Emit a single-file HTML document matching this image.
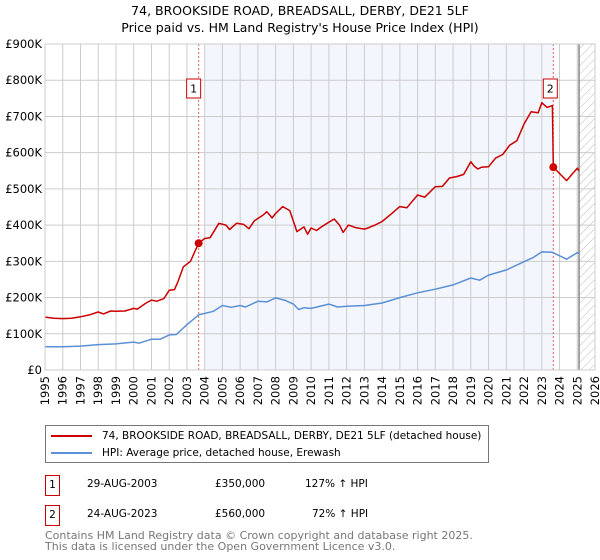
<!DOCTYPE html>
<html><head><meta charset="utf-8"><style>
body{margin:0;background:#fff;font-family:"DejaVu Sans","Liberation Sans",sans-serif;}
#wrap{position:relative;width:600px;height:560px;overflow:hidden}
</style></head><body>
<div id="wrap">
<svg id="chart" width="600" height="560" xmlns="http://www.w3.org/2000/svg" style="font-family:'DejaVu Sans','Liberation Sans',sans-serif">
<defs><pattern id="hatch" width="6" height="6" patternUnits="userSpaceOnUse" patternTransform="rotate(45)"><line x1="0" y1="0" x2="0" y2="6" stroke="#bbb" stroke-width="1"/></pattern></defs>
<text x="300" y="15" text-anchor="middle" font-size="12.5">74, BROOKSIDE ROAD, BREADSALL, DERBY, DE21 5LF</text>
<text x="300" y="32" text-anchor="middle" font-size="12.5">Price paid vs. HM Land Registry's House Price Index (HPI)</text>
<g id="bg"></g><g id="grid"></g><g id="series"></g><g id="axes"></g>
</svg>
<div style="position:absolute;left:45px;top:425px;width:442px;height:36px;border:1px solid #777;font-size:10.5px">
 <div style="position:absolute;left:5px;top:4px;white-space:nowrap"><span style="display:inline-block;width:41px;height:2px;background:#cc0000;vertical-align:middle;margin-right:10px"></span>74, BROOKSIDE ROAD, BREADSALL, DERBY, DE21 5LF (detached house)</div>
 <div style="position:absolute;left:5px;top:21px;white-space:nowrap"><span style="display:inline-block;width:41px;height:2px;background:#5b8fd6;vertical-align:middle;margin-right:10px"></span>HPI: Average price, detached house, Erewash</div>
</div>
<div style="position:absolute;top:475px;left:0;font-size:10.5px;width:600px">
 <div style="position:absolute;left:45px;top:0;width:13px;height:19px;border:1px solid #cc0000;text-align:center;line-height:19px">1</div>
 <div style="position:absolute;left:87px;top:3px">29-AUG-2003</div>
 <div style="position:absolute;left:215px;top:3px">£350,000</div>
 <div style="position:absolute;left:305px;top:3px">127% ↑ HPI</div>
</div>
<div style="position:absolute;top:505px;left:0;font-size:10.5px;width:600px">
 <div style="position:absolute;left:45px;top:0;width:13px;height:19px;border:1px solid #cc0000;text-align:center;line-height:19px">2</div>
 <div style="position:absolute;left:87px;top:3px">24-AUG-2023</div>
 <div style="position:absolute;left:215px;top:3px">£560,000</div>
 <div style="position:absolute;left:312px;top:3px">72% ↑ HPI</div>
</div>
<div style="position:absolute;left:45px;top:530px;font-size:11px;color:#777;line-height:11px">Contains HM Land Registry data © Crown copyright and database right 2025.<br>This data is licensed under the Open Government Licence v3.0.</div>
</div>
<script>
const redYears=[1995,1995.5,1996,1996.5,1997,1997.5,1998,1998.3,1998.7,1999,1999.5,2000,2000.2,2000.7,2001,2001.3,2001.7,2002,2002.3,2002.5,2002.8,2003.2,2003.66,2004,2004.3,2004.8,2005.2,2005.4,2005.8,2006.2,2006.5,2006.8,2007.3,2007.5,2007.8,2008,2008.4,2008.8,2009.2,2009.6,2009.8,2010,2010.3,2010.6,2011,2011.3,2011.6,2011.8,2012.1,2012.5,2013,2013.2,2013.6,2014,2014.5,2015,2015.4,2016,2016.4,2017,2017.4,2017.8,2018.2,2018.6,2019,2019.2,2019.4,2019.6,2020,2020.4,2020.8,2021.2,2021.6,2022,2022.4,2022.8,2023,2023.3,2023.6,2023.65,2024.4,2024.7,2025,2025.1];
const redValues=[146,143,142,143,147,152,160,155,163,162,163,170,168,185,193,190,197,220,222,245,285,300,350,363,365,405,400,388,405,402,390,412,428,437,420,432,451,440,382,395,375,392,385,396,408,417,400,380,400,393,389,392,400,410,430,451,448,483,477,506,507,530,534,540,575,562,555,560,561,585,595,621,633,679,713,710,738,725,730,560,523,540,557,550];
const hpiYears=[1995,1996,1997,1998,1999,2000,2000.3,2001,2001.5,2002,2002.4,2003,2003.66,2004.5,2005,2005.5,2006,2006.3,2007,2007.5,2008,2008.5,2009,2009.3,2009.6,2010,2011,2011.5,2012,2013,2014,2015,2016,2017,2018,2019,2019.5,2020,2021,2022,2022.5,2023,2023.6,2024.4,2025,2025.1];
const hpiValues=[64,64,66,70,72,77,74,85,85,97,98,125,152,162,178,173,178,174,190,188,199,193,182,167,172,170,182,174,176,178,185,200,213,223,235,254,248,262,276,299,310,326,325,306,324,322];
const sales=[{year:2003.66,value:350,label:"1"},{year:2023.65,value:560,label:"2"}];
const yTicks=[0,100,200,300,400,500,600,700,800,900];
const yTickLabels=["£0","£100K","£200K","£300K","£400K","£500K","£600K","£700K","£800K","£900K"];
const xTicks=[1995,1996,1997,1998,1999,2000,2001,2002,2003,2004,2005,2006,2007,2008,2009,2010,2011,2012,2013,2014,2015,2016,2017,2018,2019,2020,2021,2022,2023,2024,2025,2026];

const X0=45,X1=595,Y0=370,Y1=44;
const x=y=>X0+(y-1995)/(2026-1995)*(X1-X0);
const yS=v=>Y0-v/900*(Y0-Y1);
const NS="http://www.w3.org/2000/svg";
function mk(tag,attrs,parent){const e=document.createElementNS(NS,tag);for(const k in attrs)e.setAttribute(k,attrs[k]);parent.appendChild(e);return e;}
const bg=document.getElementById('bg'),grid=document.getElementById('grid'),ser=document.getElementById('series'),axes=document.getElementById('axes');
let r=mk('rect',{x:x(2004),y:Y1,width:x(sales[1].year)-x(2004),height:Y0-Y1,fill:'#f3f6fd'},bg);


r=mk('rect',{x:x(2025.1),y:Y1,width:X1-x(2025.1),height:Y0-Y1,fill:'url(#hatch)'},bg);


yTicks.forEach((t,i)=>{
 mk('line',{x1:X0,x2:X1,y1:yS(t),y2:yS(t),stroke:'#ccc','stroke-width':1},grid);
 const tx=mk('text',{x:X0-3,y:yS(t)+4,'text-anchor':'end','font-size':11.5},axes);tx.textContent=yTickLabels[i];
 
 
});
xTicks.forEach(t=>{
 mk('line',{x1:x(t),x2:x(t),y1:Y1,y2:Y0,stroke:'#ccc','stroke-width':1},grid);
 const tx=mk('text',{x:0,y:0,'text-anchor':'end','font-size':11.5,transform:`translate(${x(t)+4},${Y0+6}) rotate(-90)`},axes);tx.textContent=t;
 
 
});
mk('line',{x1:x(2025.1),x2:x(2025.1),y1:Y1,y2:Y0,stroke:'#888','stroke-width':1.5},grid);
sales.forEach(s=>{
 mk('line',{x1:x(s.year),x2:x(s.year),y1:Y1,y2:Y0,stroke:'#e06060','stroke-width':1,'stroke-dasharray':'2,2'},grid);
});
function path(xs,vs,col,name){
 const d=xs.map((t,i)=>(i?'L':'M')+x(t).toFixed(1)+','+yS(vs[i]).toFixed(1)).join('');
 const p=mk('path',{d:d,fill:'none',stroke:col,'stroke-width':1.5,'stroke-linejoin':'round'},ser);
 
 
}
path(hpiYears,hpiValues,'#5b8fd6','hpi-line');
path(redYears,redValues,'#cc0000','property-line');
sales.forEach(s=>{
 const c=mk('circle',{cx:x(s.year),cy:yS(s.value),r:4,fill:'#cc0000'},ser);
 
 
 const bx=x(s.year)-(s.label==='1'?5:3);
 const b=mk('rect',{x:bx-7,y:79,width:14,height:19,fill:'#fff',stroke:'#cc0000','stroke-width':1},ser);
 
 
 const t=mk('text',{x:bx,y:92.5,'text-anchor':'middle','font-size':11},ser);t.textContent=s.label;
});
mk('rect',{x:X0,y:Y1,width:X1-X0,height:Y0-Y1,fill:'none',stroke:'#ccc','stroke-width':1},axes);
</script>
</body></html>
